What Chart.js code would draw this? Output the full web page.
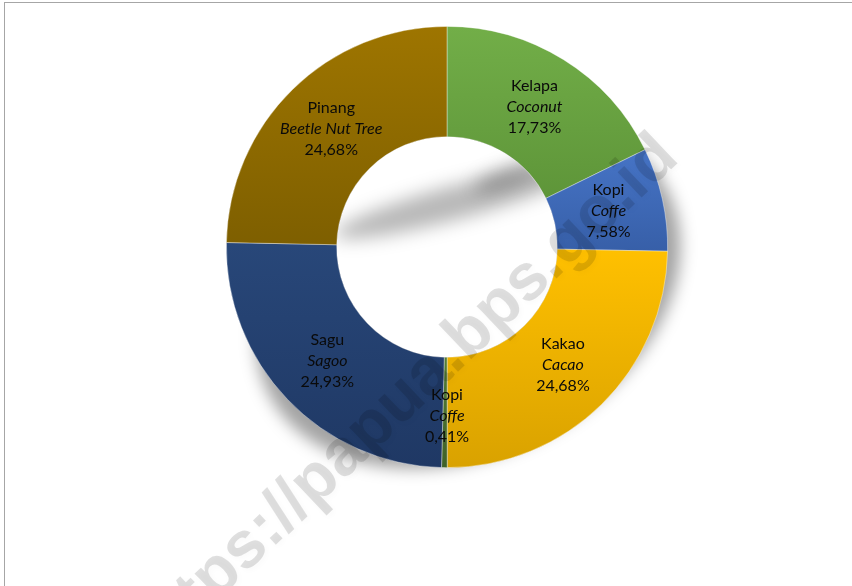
<!DOCTYPE html>
<html>
<head>
<meta charset="utf-8">
<script src="https://cdn.jsdelivr.net/npm/chart.js@4.4.1/dist/chart.umd.min.js"></script>
<style>
  html, body { margin: 0; padding: 0; background: #ffffff; }
  #wrap { width: 852px; height: 586px; position: relative; }
</style>
</head>
<body>
<div id="wrap"><canvas id="chart" width="852" height="586"></canvas></div>
<script>
// data
const categories = ["Kelapa", "Kopi", "Kakao", "Kopi", "Sagu", "Pinang"];
const englishNames = ["Coconut", "Coffe", "Cacao", "Coffe", "Sagoo", "Beetle Nut Tree"];
const shares = [17.73, 7.58, 24.68, 0.41, 24.93, 24.68];

// slice colours: top of slice -> bottom of slice
const topColors = ["#72ae48", "#4674c6", "#ffc000", "#557f35", "#284779", "#9e7500"];
const bottomColors = ["#5e9539", "#375fa8", "#d9a200", "#3f6128", "#1f3864", "#7e5f00"];

const watermarkText = "https://papua.bps.go.id";
const labelFont = "Lato";

function fmtPct(v) {
    return v.toFixed(2).replace(".", ",") + "%";
}

// per-slice vertical gradient, like the office gradient fill
function sliceFill(ctx) {
    const i = ctx.dataIndex;
    const chart = ctx.chart;
    const area = chart.chartArea;
    if (!area || i === undefined) return topColors[i] || "#888";
    const cx = (area.left + area.right) / 2;
    const cy = (area.top + area.bottom) / 2;
    const R = Math.min(area.width, area.height) / 2;
    const r = R * 0.5;
    const total = shares.reduce((a, b) => a + b, 0);
    const before = shares.slice(0, i).reduce((a, b) => a + b, 0);
    const a0 = before / total * Math.PI * 2 - Math.PI / 2;
    const a1 = a0 + shares[i] / total * Math.PI * 2;
    let yMin = Infinity, yMax = -Infinity;
    for (let t = 0; t <= 40; t++) {
        const a = a0 + (a1 - a0) * t / 40;
        for (const rad of [R, r]) {
            const y = cy + rad * Math.sin(a);
            yMin = Math.min(yMin, y);
            yMax = Math.max(yMax, y);
        }
    }
    const g = chart.ctx.createLinearGradient(0, yMin, 0, yMax);
    g.addColorStop(0, topColors[i]);
    g.addColorStop(1, bottomColors[i]);
    return g;
}

const framePlugin = {
    id: "frame",
    beforeDraw(chart) {
        const c = chart.ctx;
        c.save();
        c.fillStyle = "#ffffff";
        c.fillRect(0, 0, chart.width, chart.height);
        c.strokeStyle = "#a6a6a6";
        c.lineWidth = 1;
        c.strokeRect(4.5, 2.5, chart.width + 50, chart.height + 50);
        c.restore();
    },
    // skewed, squashed shadow of the ring (office perspective shadow)
    beforeDatasetsDraw(chart) {
        const arc = chart.getDatasetMeta(0).data[0];
        if (!arc) return;
        const { x, y, outerRadius, innerRadius } = arc.getProps(["x", "y", "outerRadius", "innerRadius"], true);
        const c = chart.ctx;
        const sx = 0.93, sy = 0.8, shear = -0.25, ox = 21, oy = 45;

        // outer part, kept out of the hole
        c.save();
        c.beginPath();
        c.rect(0, 0, chart.width, chart.height);
        c.arc(x, y, innerRadius, 0, Math.PI * 2);
        c.clip("evenodd");
        c.filter = "blur(8px)";
        c.fillStyle = "rgba(0,0,0,0.36)";
        c.beginPath();
        for (let k = 0; k <= 120; k++) {
            const t = k / 120 * Math.PI * 2;
            const px = outerRadius * Math.cos(t), py = outerRadius * Math.sin(t);
            const X = x + ox + px * sx + shear * py, Y = y + oy + py * sy;
            if (k === 0) c.moveTo(X, Y); else c.lineTo(X, Y);
        }
        c.closePath();
        c.fill();
        c.restore();

        // wisp seen through the hole
        c.save();
        c.beginPath();
        c.arc(x, y, innerRadius, 0, Math.PI * 2);
        c.clip();
        c.filter = "blur(9px)";
        c.fillStyle = "rgba(0,0,0,0.28)";
        c.beginPath();
        c.ellipse(x + 10, y - 45, innerRadius * 1.15, 17, -15 * Math.PI / 180, 0, Math.PI * 2);
        c.fill();
        c.beginPath();
        c.ellipse(x + 65, y - 72, 40, 9, -20 * Math.PI / 180, 0, Math.PI * 2);
        c.fill();
        c.restore();
    },
    afterDatasetsDraw(chart) {
        const c = chart.ctx;
        const meta = chart.getDatasetMeta(0);

        // watermark
        const first = meta.data[0];
        c.save();
        c.translate(first.x - 42, first.y + 150);
        c.rotate(-43.5 * Math.PI / 180);
        c.font = 'bold 66px "Liberation Sans"';
        c.textAlign = "center";
        c.textBaseline = "middle";
        c.shadowColor = "rgba(0,0,0,0.18)";
        c.shadowBlur = 6;
        c.shadowOffsetX = 2;
        c.shadowOffsetY = 2;
        c.fillStyle = "rgba(0,0,0,0.12)";
        c.fillText(watermarkText, 0, 0);
        c.restore();

        // slice labels
        c.save();
        c.fillStyle = "#0a0a0a";
        c.textAlign = "center";
        c.textBaseline = "middle";
        meta.data.forEach((arc, i) => {
            const p = arc.tooltipPosition();
            const px = i === 3 ? p.x + 2 : p.x;
            const py = i === 3 ? p.y + 3 : p.y;
            c.font = "16px " + labelFont;
            c.fillText(categories[i], px, py - 21);
            c.font = "italic 16px " + labelFont;
            c.fillText(englishNames[i], px, py);
            c.font = "16px " + labelFont;
            c.fillText(fmtPct(shares[i]), px, py + 21);
        });
        c.restore();
    },
};

new Chart(document.getElementById("chart"), {
    type: "doughnut",
    data: {
        labels: categories,
        datasets: [{
            data: shares,
            backgroundColor: sliceFill,
            borderColor: "rgba(255,255,255,0.5)",
            borderWidth: 0.75,
        }],
    },
    options: {
        responsive: false,
        animation: false,
        cutout: "50%",
        layout: { padding: { left: 226, top: 26, right: 184, bottom: 118 } },
        plugins: {
            legend: { display: false },
            tooltip: { enabled: false },
        },
    },
    plugins: [framePlugin],
});
</script>
</body>
</html>
